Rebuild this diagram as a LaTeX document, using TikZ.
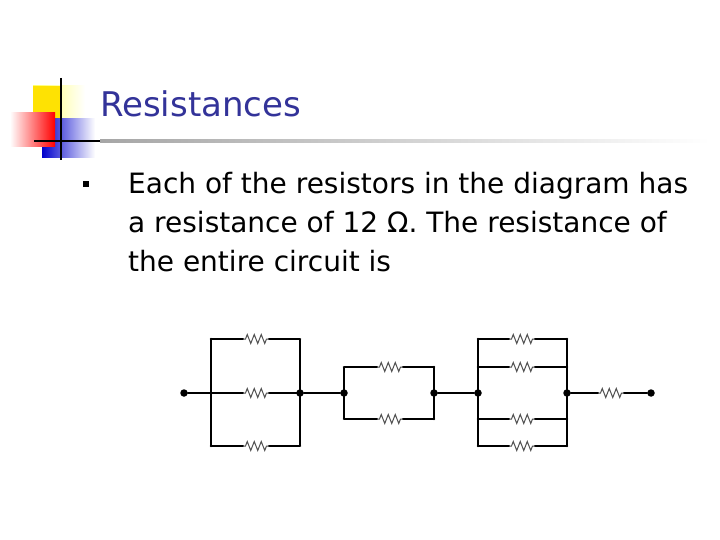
\documentclass[tikz,border=0pt]{standalone}
\usepackage{fontspec}
\setmainfont{DejaVu Sans}
\definecolor{titleblue}{RGB}{51,51,153}
\definecolor{resgray}{RGB}{80,80,80}
\begin{document}
\begin{tikzpicture}[x=1pt,y=-1pt,
  wire/.style={line width=2.6pt,line cap=round},
  thin wire/.style={line width=1.5pt},
  dot/.style={circle,fill=black,inner sep=0pt,minimum size=7.5pt},
  res/.pic={\draw[resgray,line width=1pt] (-13,0)--(-10.5,0)--(-8.75,-4.5)--(-5.25,4.5)--(-1.75,-4.5)--(1.75,4.5)--(5.25,-4.5)--(8.75,4.5)--(10.5,0)--(13,0);}
]
\useasboundingbox (0,0) rectangle (720,540);
\fill[white] (0,0) rectangle (720,540);
% logo
\shade[left color=yellow!60,right color=white] (33,86) rectangle (85,120);
\fill[yellow!85!orange] (33,86) rectangle (60,120);
\shade[left color=blue!80!black,right color=white] (42,119) rectangle (95,158);
\shade[left color=white,right color=red] (10,113) rectangle (55,147);
\draw[line width=1.3pt] (61,78) -- (61,160);
\draw[line width=1.3pt] (34,141) -- (110,141);
\shade[left color=gray!70,right color=white] (100,140) rectangle (710,142.5);
\node[anchor=base west,text=titleblue,font=\fontsize{34}{40}\selectfont,inner sep=0] (title) at (100,117) {Resistances};
\fill[black] (83,181) rectangle (89,187);
\node[anchor=base west,align=left,font=\fontsize{28}{39}\selectfont,inner sep=0] (body) at (128,271)
 {Each of the resistors in the diagram has\\a resistance of 12 Ω. The resistance of\\the entire circuit is};
% circuit coordinates
\node[dot] (A) at (184,393) {};
\coordinate (L1t) at (211,339); \coordinate (L1m) at (211,393); \coordinate (L1b) at (211,446);
\coordinate (R1t) at (300,339); \node[dot] (R1m) at (300,393) {}; \coordinate (R1b) at (300,446);
\node[dot] (L2m) at (344,393) {}; \coordinate (L2t) at (344,367); \coordinate (L2b) at (344,419);
\node[dot] (R2m) at (434,393) {}; \coordinate (R2t) at (434,367); \coordinate (R2b) at (434,419);
\node[dot] (L3m) at (478,393) {}; \node[dot] (R3m) at (567,393) {};
\node[dot] (B) at (651,393) {};
% block 1
\draw[wire] (L1t) -- (L1b);
\draw[thin wire] (R1t) -- (R1b);
\foreach \y in {339,393,446}{
  \draw[wire] (211,\y) -- (243,\y); \draw[wire] (269,\y) -- (300,\y);
  \pic at (256,\y) {res};}
\draw[wire] (A) -- (L1m);
\draw[wire] (R1m) -- (L2m);
% block 2
\draw[thin wire] (L2t) -- (L2b);
\draw[wire] (R2t) -- (R2b);
\foreach \y in {367,419}{
  \draw[wire] (344,\y) -- (377,\y); \draw[wire] (403,\y) -- (434,\y);
  \pic at (390,\y) {res};}
\draw[wire] (R2m) -- (L3m);
% block 3
\draw[wire] (478,339) -- (478,446);
\draw[wire] (567,339) -- (567,446);
\foreach \y in {339,367,419,446}{
  \draw[wire] (478,\y) -- (509,\y); \draw[wire] (535,\y) -- (567,\y);
  \pic at (522,\y) {res};}
\draw[wire] (R3m) -- (598,393); \draw[wire] (624,393) -- (B);
\pic at (611,393) {res};
\end{tikzpicture}
\end{document}
